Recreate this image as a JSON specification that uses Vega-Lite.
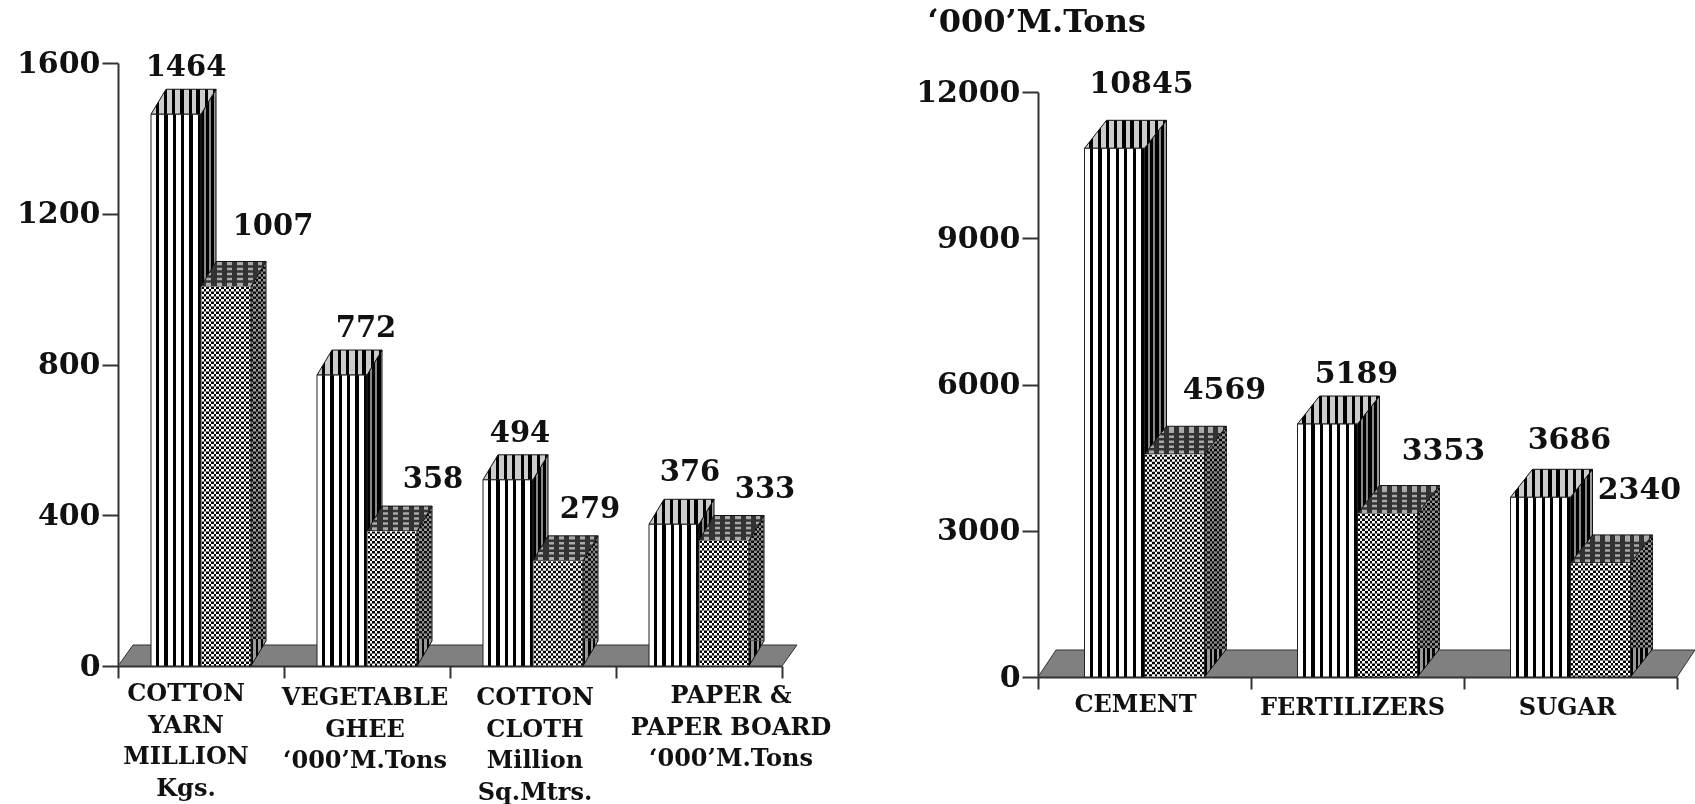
{"$schema":"https://vega.github.io/schema/vega-lite/v6.json","padding":0,"background":"white","spacing":0,"config":{"view":{"stroke":null},"concat":{"spacing":0}},"resolve":{"scale":{"xOffset":"independent","x":"independent","y":"independent"}},
"hconcat":[
{"width":850,"height":804,
"data":{"values":[
{"category":"COTTON|YARN|MILLION|Kgs.","series":"A","value":1464},{"category":"COTTON|YARN|MILLION|Kgs.","series":"B","value":1007},
{"category":"VEGETABLE|GHEE|‘000’M.Tons","series":"A","value":772},{"category":"VEGETABLE|GHEE|‘000’M.Tons","series":"B","value":358},
{"category":"COTTON|CLOTH|Million|Sq.Mtrs.","series":"A","value":494},{"category":"COTTON|CLOTH|Million|Sq.Mtrs.","series":"B","value":279},
{"category":"PAPER &|PAPER BOARD|‘000’M.Tons","series":"A","value":376},{"category":"PAPER &|PAPER BOARD|‘000’M.Tons","series":"B","value":333}]},
"encoding":{
"x":{"field":"category","type":"nominal","sort":null,"scale":{"range":[118,782],"paddingInner":0,"paddingOuter":0},"axis":{"title":null,"orient":"bottom","offset":-138,"labels":false,"tickBand":"extent","tickSize":12,"tickColor":"#333","tickWidth":2,"domainColor":"#333","domainWidth":2}},
"y":{"field":"value","type":"quantitative","scale":{"domain":[0,1600],"range":[666,63],"nice":false},"axis":{"title":null,"orient":"left","offset":-118,"values":[0,400,800,1200,1600],"grid":false,"format":"d","tickSize":16,"tickColor":"#333","tickWidth":2,"domainColor":"#333","domainWidth":2,"labelPadding":2,"labelFont":"DejaVu Serif","labelFontWeight":"bold","labelFontSize":30,"labelColor":"#111"}}},
"layer":[
{"transform":[{"filter":"datum.series=='A' && indexof(datum.category,'YARN')>=0"}],"mark":{"type":"point","shape":"M-83,0L581,0L596,-21L-68,-21Z","size":4,"filled":true,"fill":"#808080","stroke":"#333","strokeWidth":1,"opacity":1},"encoding":{"y":{"datum":0}}},
{"transform":[{"filter":"datum.series=='A'"}],"mark":{"type":"text","font":"DejaVu Serif","fontWeight":"bold","fontSize":24,"fill":"#111","baseline":"top","align":"center","lineBreak":"|","lineHeight":31.5,"dx":{"expr":"indexof(datum.category,'YARN')>=0?-15:indexof(datum.category,'GHEE')>=0?-2:indexof(datum.category,'CLOTH')>=0?2:32"},"dy":{"expr":"indexof(datum.category,'YARN')>=0?16:indexof(datum.category,'BOARD')>=0?18:20"}},"encoding":{"y":{"datum":0},"text":{"field":"category","type":"nominal"}}},
{"encoding":{"xOffset":{"field":"series","scale":{"paddingInner":0,"paddingOuter":0.66}}},
"layer":[
{"transform":[{"filter":"datum.series=='A'"}],"mark":{"type":"point","size":4,"filled":true,"opacity":1,"stroke":"#111","strokeWidth":1,"shape":{"expr":"'M25,0L40,-25L40,'+(datum.value*0.376875-25)+'L25,'+(datum.value*0.376875)+'Z'"},"fill":{"gradient":"linear","x1":0,"x2":1,"y1":0,"y2":0,"stops":[{"offset":0,"color":"#000"},{"offset":0.2,"color":"#000"},{"offset":0.2,"color":"#888"},{"offset":0.33,"color":"#888"},{"offset":0.33,"color":"#000"},{"offset":0.55,"color":"#000"},{"offset":0.55,"color":"#888"},{"offset":0.68,"color":"#888"},{"offset":0.68,"color":"#000"},{"offset":0.9,"color":"#000"},{"offset":0.9,"color":"#999"},{"offset":1,"color":"#999"}]}}},
{"transform":[{"filter":"datum.series=='A'"}],"mark":{"type":"point","shape":"M-25,0L25,0L40,-25L-10,-25Z","size":4,"filled":true,"opacity":1,"stroke":"#111","strokeWidth":1,"fill":{"gradient":"linear","x1":0,"x2":1,"y1":0,"y2":0,"stops":[{"offset":0,"color":"#ccc"},{"offset":0.08,"color":"#ccc"},{"offset":0.08,"color":"#000"},{"offset":0.125,"color":"#000"},{"offset":0.125,"color":"#ccc"},{"offset":0.2,"color":"#ccc"},{"offset":0.2,"color":"#000"},{"offset":0.25,"color":"#000"},{"offset":0.25,"color":"#ccc"},{"offset":0.33,"color":"#ccc"},{"offset":0.33,"color":"#000"},{"offset":0.375,"color":"#000"},{"offset":0.375,"color":"#ccc"},{"offset":0.45,"color":"#ccc"},{"offset":0.45,"color":"#000"},{"offset":0.5,"color":"#000"},{"offset":0.5,"color":"#ccc"},{"offset":0.58,"color":"#ccc"},{"offset":0.58,"color":"#000"},{"offset":0.625,"color":"#000"},{"offset":0.625,"color":"#ccc"},{"offset":0.7,"color":"#ccc"},{"offset":0.7,"color":"#000"},{"offset":0.75,"color":"#000"},{"offset":0.75,"color":"#ccc"},{"offset":0.83,"color":"#ccc"},{"offset":0.83,"color":"#000"},{"offset":0.88,"color":"#000"},{"offset":0.88,"color":"#ccc"},{"offset":0.95,"color":"#ccc"},{"offset":0.95,"color":"#000"},{"offset":1,"color":"#000"}]}}},
{"transform":[{"filter":"datum.series=='A'"}],"mark":{"type":"bar","stroke":"#222","strokeWidth":1,"fill":{"gradient":"linear","x1":0,"x2":1,"y1":0,"y2":0,"stops":[{"offset":0,"color":"#fff"},{"offset":0.1,"color":"#fff"},{"offset":0.1,"color":"#000"},{"offset":0.167,"color":"#000"},{"offset":0.167,"color":"#fff"},{"offset":0.267,"color":"#fff"},{"offset":0.267,"color":"#000"},{"offset":0.333,"color":"#000"},{"offset":0.333,"color":"#fff"},{"offset":0.433,"color":"#fff"},{"offset":0.433,"color":"#000"},{"offset":0.5,"color":"#000"},{"offset":0.5,"color":"#fff"},{"offset":0.6,"color":"#fff"},{"offset":0.6,"color":"#000"},{"offset":0.667,"color":"#000"},{"offset":0.667,"color":"#fff"},{"offset":0.767,"color":"#fff"},{"offset":0.767,"color":"#000"},{"offset":0.833,"color":"#000"},{"offset":0.833,"color":"#fff"},{"offset":0.933,"color":"#fff"},{"offset":0.933,"color":"#000"},{"offset":1,"color":"#000"}]}}},
{"transform":[{"filter":"datum.series=='B'"}],"mark":{"type":"point","size":4,"filled":true,"opacity":1,"stroke":"#111","strokeWidth":1,"shape":{"expr":"'M25,0L40,-25L40,'+(datum.value*0.376875-25)+'L25,'+(datum.value*0.376875)+'Z'"},"fill":{"gradient":"linear","x1":0,"x2":1,"y1":0,"y2":0,"stops":[{"offset":0,"color":"#000"},{"offset":0.166,"color":"#000"},{"offset":0.166,"color":"#999"},{"offset":0.333,"color":"#999"},{"offset":0.333,"color":"#000"},{"offset":0.5,"color":"#000"},{"offset":0.5,"color":"#999"},{"offset":0.666,"color":"#999"},{"offset":0.666,"color":"#000"},{"offset":0.833,"color":"#000"},{"offset":0.833,"color":"#999"},{"offset":1,"color":"#999"}]}}},
{"transform":[{"filter":"datum.series=='B'"}],"mark":{"type":"point","size":4,"filled":false,"fill":null,"opacity":1,"stroke":"#888","strokeWidth":15,"strokeDash":[2.5,2.5],"blend":"difference","shape":{"expr":"'M32.5,-25L32.5,'+(datum.value*0.376875-25)"}}},
{"transform":[{"filter":"datum.series=='B'"}],"mark":{"type":"point","shape":"M-25,0L25,0L40,-25L-10,-25Z","size":4,"filled":true,"opacity":1,"stroke":"#111","strokeWidth":1,"fill":{"gradient":"linear","x1":0,"x2":1,"y1":0,"y2":0,"stops":[{"offset":0,"color":"#333"},{"offset":0.08,"color":"#333"},{"offset":0.08,"color":"#aaa"},{"offset":0.16,"color":"#aaa"},{"offset":0.16,"color":"#333"},{"offset":0.24,"color":"#333"},{"offset":0.24,"color":"#aaa"},{"offset":0.32,"color":"#aaa"},{"offset":0.32,"color":"#333"},{"offset":0.4,"color":"#333"},{"offset":0.4,"color":"#aaa"},{"offset":0.48,"color":"#aaa"},{"offset":0.48,"color":"#333"},{"offset":0.56,"color":"#333"},{"offset":0.56,"color":"#aaa"},{"offset":0.64,"color":"#aaa"},{"offset":0.64,"color":"#333"},{"offset":0.72,"color":"#333"},{"offset":0.72,"color":"#aaa"},{"offset":0.8,"color":"#aaa"},{"offset":0.8,"color":"#333"},{"offset":0.88,"color":"#333"},{"offset":0.88,"color":"#aaa"},{"offset":0.94,"color":"#aaa"},{"offset":0.94,"color":"#333"},{"offset":1,"color":"#333"}]}}},
{"transform":[{"filter":"datum.series=='B'"}],"mark":{"type":"point","shape":"M-22,-5L28,-5M-19,-10L31,-10M-16,-15L34,-15M-13,-20L37,-20","size":4,"filled":false,"fill":null,"opacity":1,"stroke":"#333","strokeWidth":2.5}},
{"transform":[{"filter":"datum.series=='B'"}],"mark":{"type":"bar","stroke":"#222","strokeWidth":1,"fill":{"gradient":"linear","x1":0,"x2":1,"y1":0,"y2":0,"stops":[{"offset":0,"color":"#fff"},{"offset":0.05,"color":"#fff"},{"offset":0.05,"color":"#000"},{"offset":0.1,"color":"#000"},{"offset":0.1,"color":"#fff"},{"offset":0.15,"color":"#fff"},{"offset":0.15,"color":"#000"},{"offset":0.2,"color":"#000"},{"offset":0.2,"color":"#fff"},{"offset":0.25,"color":"#fff"},{"offset":0.25,"color":"#000"},{"offset":0.3,"color":"#000"},{"offset":0.3,"color":"#fff"},{"offset":0.35,"color":"#fff"},{"offset":0.35,"color":"#000"},{"offset":0.4,"color":"#000"},{"offset":0.4,"color":"#fff"},{"offset":0.45,"color":"#fff"},{"offset":0.45,"color":"#000"},{"offset":0.5,"color":"#000"},{"offset":0.5,"color":"#fff"},{"offset":0.55,"color":"#fff"},{"offset":0.55,"color":"#000"},{"offset":0.6,"color":"#000"},{"offset":0.6,"color":"#fff"},{"offset":0.65,"color":"#fff"},{"offset":0.65,"color":"#000"},{"offset":0.7,"color":"#000"},{"offset":0.7,"color":"#fff"},{"offset":0.75,"color":"#fff"},{"offset":0.75,"color":"#000"},{"offset":0.8,"color":"#000"},{"offset":0.8,"color":"#fff"},{"offset":0.85,"color":"#fff"},{"offset":0.85,"color":"#000"},{"offset":0.9,"color":"#000"},{"offset":0.9,"color":"#fff"},{"offset":0.95,"color":"#fff"},{"offset":0.95,"color":"#000"},{"offset":1,"color":"#000"}]}}},
{"transform":[{"filter":"datum.series=='B'"}],"mark":{"type":"rule","stroke":"#fff","strokeWidth":49,"strokeDash":[2.5,2.5],"blend":"difference"},"encoding":{"y2":{"datum":0}}},
{"mark":{"type":"text","font":"DejaVu Serif","fontWeight":"bold","fontSize":29,"fill":"#111","baseline":"middle","dx":{"expr":"({1464:10,1007:47,772:24,358:41,494:12,279:32,376:16,333:41})[datum.value]"},"dy":{"expr":"({1464:-47,1007:-60,772:-47,358:-52,494:-47,279:-52,376:-52,333:-52})[datum.value]"}},"encoding":{"text":{"field":"value","type":"quantitative","format":"d"}}}
]}
]},
{"width":845,"height":804,
"data":{"values":[
{"category":"CEMENT","series":"A","value":10845},{"category":"CEMENT","series":"B","value":4569},
{"category":"FERTILIZERS","series":"A","value":5189},{"category":"FERTILIZERS","series":"B","value":3353},
{"category":"SUGAR","series":"A","value":3686},{"category":"SUGAR","series":"B","value":2340}]},
"encoding":{
"x":{"field":"category","type":"nominal","sort":null,"scale":{"range":[188,827],"paddingInner":0,"paddingOuter":0},"axis":{"title":null,"orient":"bottom","offset":-127,"labels":false,"tickBand":"extent","tickSize":12,"tickColor":"#333","tickWidth":2,"domainColor":"#333","domainWidth":2}},
"y":{"field":"value","type":"quantitative","scale":{"domain":[0,12000],"range":[677,92],"nice":false},"axis":{"title":"‘000’M.Tons","titleAngle":0,"titleAlign":"left","titleBaseline":"middle","titleX":-111,"titleY":21,"titleFont":"DejaVu Serif","titleFontWeight":"bold","titleFontSize":32,"titleColor":"#111","orient":"left","offset":-188,"values":[0,3000,6000,9000,12000],"grid":false,"format":"d","tickSize":16,"tickColor":"#333","tickWidth":2,"domainColor":"#333","domainWidth":2,"labelPadding":2,"labelFont":"DejaVu Serif","labelFontWeight":"bold","labelFontSize":30,"labelColor":"#111"}}},
"layer":[
{"transform":[{"filter":"datum.series=='A' && datum.category=='CEMENT'"}],"mark":{"type":"point","shape":"M-106.5,0L532.5,0L550.5,-27L-88.5,-27Z","size":4,"filled":true,"fill":"#808080","stroke":"#333","strokeWidth":1,"opacity":1},"encoding":{"y":{"datum":0}}},
{"transform":[{"filter":"datum.series=='A'"}],"mark":{"type":"text","font":"DejaVu Serif","fontWeight":"bold","fontSize":24,"fill":"#111","baseline":"top","align":"center","dx":{"expr":"datum.category=='CEMENT'?-9:datum.category=='FERTILIZERS'?-5:-3"},"dy":{"expr":"datum.category=='CEMENT'?16:19"}},"encoding":{"y":{"datum":0},"text":{"field":"category","type":"nominal"}}},
{"encoding":{"xOffset":{"field":"series","scale":{"paddingInner":0,"paddingOuter":0.775}}},
"layer":[
{"transform":[{"filter":"datum.series=='A'"}],"mark":{"type":"point","size":4,"filled":true,"opacity":1,"stroke":"#111","strokeWidth":1,"shape":{"expr":"'M30,0L52,-28L52,'+(datum.value*0.04875-28)+'L30,'+(datum.value*0.04875)+'Z'"},"fill":{"gradient":"linear","x1":0,"x2":1,"y1":0,"y2":0,"stops":[{"offset":0,"color":"#000"},{"offset":0.15,"color":"#000"},{"offset":0.15,"color":"#888"},{"offset":0.24,"color":"#888"},{"offset":0.24,"color":"#000"},{"offset":0.4,"color":"#000"},{"offset":0.4,"color":"#888"},{"offset":0.49,"color":"#888"},{"offset":0.49,"color":"#000"},{"offset":0.65,"color":"#000"},{"offset":0.65,"color":"#888"},{"offset":0.74,"color":"#888"},{"offset":0.74,"color":"#000"},{"offset":0.9,"color":"#000"},{"offset":0.9,"color":"#999"},{"offset":1,"color":"#999"}]}}},
{"transform":[{"filter":"datum.series=='A'"}],"mark":{"type":"point","shape":"M-30,0L30,0L52,-28L-8,-28Z","size":4,"filled":true,"opacity":1,"stroke":"#111","strokeWidth":1,"fill":{"gradient":"linear","x1":0,"x2":1,"y1":0,"y2":0,"stops":[{"offset":0,"color":"#ccc"},{"offset":0.06,"color":"#ccc"},{"offset":0.06,"color":"#000"},{"offset":0.1,"color":"#000"},{"offset":0.1,"color":"#ccc"},{"offset":0.16,"color":"#ccc"},{"offset":0.16,"color":"#000"},{"offset":0.2,"color":"#000"},{"offset":0.2,"color":"#ccc"},{"offset":0.26,"color":"#ccc"},{"offset":0.26,"color":"#000"},{"offset":0.3,"color":"#000"},{"offset":0.3,"color":"#ccc"},{"offset":0.36,"color":"#ccc"},{"offset":0.36,"color":"#000"},{"offset":0.4,"color":"#000"},{"offset":0.4,"color":"#ccc"},{"offset":0.46,"color":"#ccc"},{"offset":0.46,"color":"#000"},{"offset":0.5,"color":"#000"},{"offset":0.5,"color":"#ccc"},{"offset":0.56,"color":"#ccc"},{"offset":0.56,"color":"#000"},{"offset":0.6,"color":"#000"},{"offset":0.6,"color":"#ccc"},{"offset":0.66,"color":"#ccc"},{"offset":0.66,"color":"#000"},{"offset":0.7,"color":"#000"},{"offset":0.7,"color":"#ccc"},{"offset":0.76,"color":"#ccc"},{"offset":0.76,"color":"#000"},{"offset":0.8,"color":"#000"},{"offset":0.8,"color":"#ccc"},{"offset":0.86,"color":"#ccc"},{"offset":0.86,"color":"#000"},{"offset":0.9,"color":"#000"},{"offset":0.9,"color":"#ccc"},{"offset":0.96,"color":"#ccc"},{"offset":0.96,"color":"#000"},{"offset":1,"color":"#000"}]}}},
{"transform":[{"filter":"datum.series=='A'"}],"mark":{"type":"bar","stroke":"#222","strokeWidth":1,"fill":{"gradient":"linear","x1":0,"x2":1,"y1":0,"y2":0,"stops":[{"offset":0,"color":"#fff"},{"offset":0.09,"color":"#fff"},{"offset":0.09,"color":"#000"},{"offset":0.143,"color":"#000"},{"offset":0.143,"color":"#fff"},{"offset":0.233,"color":"#fff"},{"offset":0.233,"color":"#000"},{"offset":0.286,"color":"#000"},{"offset":0.286,"color":"#fff"},{"offset":0.376,"color":"#fff"},{"offset":0.376,"color":"#000"},{"offset":0.429,"color":"#000"},{"offset":0.429,"color":"#fff"},{"offset":0.519,"color":"#fff"},{"offset":0.519,"color":"#000"},{"offset":0.571,"color":"#000"},{"offset":0.571,"color":"#fff"},{"offset":0.661,"color":"#fff"},{"offset":0.661,"color":"#000"},{"offset":0.714,"color":"#000"},{"offset":0.714,"color":"#fff"},{"offset":0.804,"color":"#fff"},{"offset":0.804,"color":"#000"},{"offset":0.857,"color":"#000"},{"offset":0.857,"color":"#fff"},{"offset":0.947,"color":"#fff"},{"offset":0.947,"color":"#000"},{"offset":1,"color":"#000"}]}}},
{"transform":[{"filter":"datum.series=='B'"}],"mark":{"type":"point","size":4,"filled":true,"opacity":1,"stroke":"#111","strokeWidth":1,"shape":{"expr":"'M30,0L52,-28L52,'+(datum.value*0.04875-28)+'L30,'+(datum.value*0.04875)+'Z'"},"fill":{"gradient":"linear","x1":0,"x2":1,"y1":0,"y2":0,"stops":[{"offset":0,"color":"#000"},{"offset":0.11,"color":"#000"},{"offset":0.11,"color":"#999"},{"offset":0.23,"color":"#999"},{"offset":0.23,"color":"#000"},{"offset":0.34,"color":"#000"},{"offset":0.34,"color":"#999"},{"offset":0.45,"color":"#999"},{"offset":0.45,"color":"#000"},{"offset":0.57,"color":"#000"},{"offset":0.57,"color":"#999"},{"offset":0.68,"color":"#999"},{"offset":0.68,"color":"#000"},{"offset":0.8,"color":"#000"},{"offset":0.8,"color":"#999"},{"offset":0.91,"color":"#999"},{"offset":0.91,"color":"#000"},{"offset":1,"color":"#000"}]}}},
{"transform":[{"filter":"datum.series=='B'"}],"mark":{"type":"point","size":4,"filled":false,"fill":null,"opacity":1,"stroke":"#888","strokeWidth":22,"strokeDash":[2.5,2.5],"blend":"difference","shape":{"expr":"'M41,-28L41,'+(datum.value*0.04875-28)"}}},
{"transform":[{"filter":"datum.series=='B'"}],"mark":{"type":"point","shape":"M-30,0L30,0L52,-28L-8,-28Z","size":4,"filled":true,"opacity":1,"stroke":"#111","strokeWidth":1,"fill":{"gradient":"linear","x1":0,"x2":1,"y1":0,"y2":0,"stops":[{"offset":0,"color":"#333"},{"offset":0.06,"color":"#333"},{"offset":0.06,"color":"#aaa"},{"offset":0.12,"color":"#aaa"},{"offset":0.12,"color":"#333"},{"offset":0.18,"color":"#333"},{"offset":0.18,"color":"#aaa"},{"offset":0.24,"color":"#aaa"},{"offset":0.24,"color":"#333"},{"offset":0.3,"color":"#333"},{"offset":0.3,"color":"#aaa"},{"offset":0.36,"color":"#aaa"},{"offset":0.36,"color":"#333"},{"offset":0.42,"color":"#333"},{"offset":0.42,"color":"#aaa"},{"offset":0.48,"color":"#aaa"},{"offset":0.48,"color":"#333"},{"offset":0.54,"color":"#333"},{"offset":0.54,"color":"#aaa"},{"offset":0.6,"color":"#aaa"},{"offset":0.6,"color":"#333"},{"offset":0.66,"color":"#333"},{"offset":0.66,"color":"#aaa"},{"offset":0.72,"color":"#aaa"},{"offset":0.72,"color":"#333"},{"offset":0.78,"color":"#333"},{"offset":0.78,"color":"#aaa"},{"offset":0.84,"color":"#aaa"},{"offset":0.84,"color":"#333"},{"offset":0.9,"color":"#333"},{"offset":0.9,"color":"#aaa"},{"offset":0.96,"color":"#aaa"},{"offset":0.96,"color":"#333"},{"offset":1,"color":"#333"}]}}},
{"transform":[{"filter":"datum.series=='B'"}],"mark":{"type":"point","shape":"M-26,-5L34,-5M-22,-10L38,-10M-18,-15L42,-15M-14,-20L46,-20","size":4,"filled":false,"fill":null,"opacity":1,"stroke":"#333","strokeWidth":2.5}},
{"transform":[{"filter":"datum.series=='B'"}],"mark":{"type":"bar","stroke":"#222","strokeWidth":1,"fill":{"gradient":"linear","x1":0,"x2":1,"y1":0,"y2":0,"stops":[{"offset":0,"color":"#fff"},{"offset":0.042,"color":"#fff"},{"offset":0.042,"color":"#000"},{"offset":0.083,"color":"#000"},{"offset":0.083,"color":"#fff"},{"offset":0.125,"color":"#fff"},{"offset":0.125,"color":"#000"},{"offset":0.167,"color":"#000"},{"offset":0.167,"color":"#fff"},{"offset":0.208,"color":"#fff"},{"offset":0.208,"color":"#000"},{"offset":0.25,"color":"#000"},{"offset":0.25,"color":"#fff"},{"offset":0.292,"color":"#fff"},{"offset":0.292,"color":"#000"},{"offset":0.333,"color":"#000"},{"offset":0.333,"color":"#fff"},{"offset":0.375,"color":"#fff"},{"offset":0.375,"color":"#000"},{"offset":0.417,"color":"#000"},{"offset":0.417,"color":"#fff"},{"offset":0.458,"color":"#fff"},{"offset":0.458,"color":"#000"},{"offset":0.5,"color":"#000"},{"offset":0.5,"color":"#fff"},{"offset":0.542,"color":"#fff"},{"offset":0.542,"color":"#000"},{"offset":0.583,"color":"#000"},{"offset":0.583,"color":"#fff"},{"offset":0.625,"color":"#fff"},{"offset":0.625,"color":"#000"},{"offset":0.667,"color":"#000"},{"offset":0.667,"color":"#fff"},{"offset":0.708,"color":"#fff"},{"offset":0.708,"color":"#000"},{"offset":0.75,"color":"#000"},{"offset":0.75,"color":"#fff"},{"offset":0.792,"color":"#fff"},{"offset":0.792,"color":"#000"},{"offset":0.833,"color":"#000"},{"offset":0.833,"color":"#fff"},{"offset":0.875,"color":"#fff"},{"offset":0.875,"color":"#000"},{"offset":0.917,"color":"#000"},{"offset":0.917,"color":"#fff"},{"offset":0.958,"color":"#fff"},{"offset":0.958,"color":"#000"},{"offset":1,"color":"#000"}]}}},
{"transform":[{"filter":"datum.series=='B'"}],"mark":{"type":"rule","stroke":"#fff","strokeWidth":59,"strokeDash":[2.5,2.5],"blend":"difference"},"encoding":{"y2":{"datum":0}}},
{"mark":{"type":"text","font":"DejaVu Serif","fontWeight":"bold","fontSize":30,"fill":"#111","baseline":"middle","dx":{"expr":"({10845:27,4569:50,5189:29,3353:56,3686:29,2340:39})[datum.value]"},"dy":{"expr":"({10845:-64,4569:-64,5189:-50,3353:-63,3686:-57,2340:-73})[datum.value]"}},"encoding":{"text":{"field":"value","type":"quantitative","format":"d"}}}
]}
]}
]}
